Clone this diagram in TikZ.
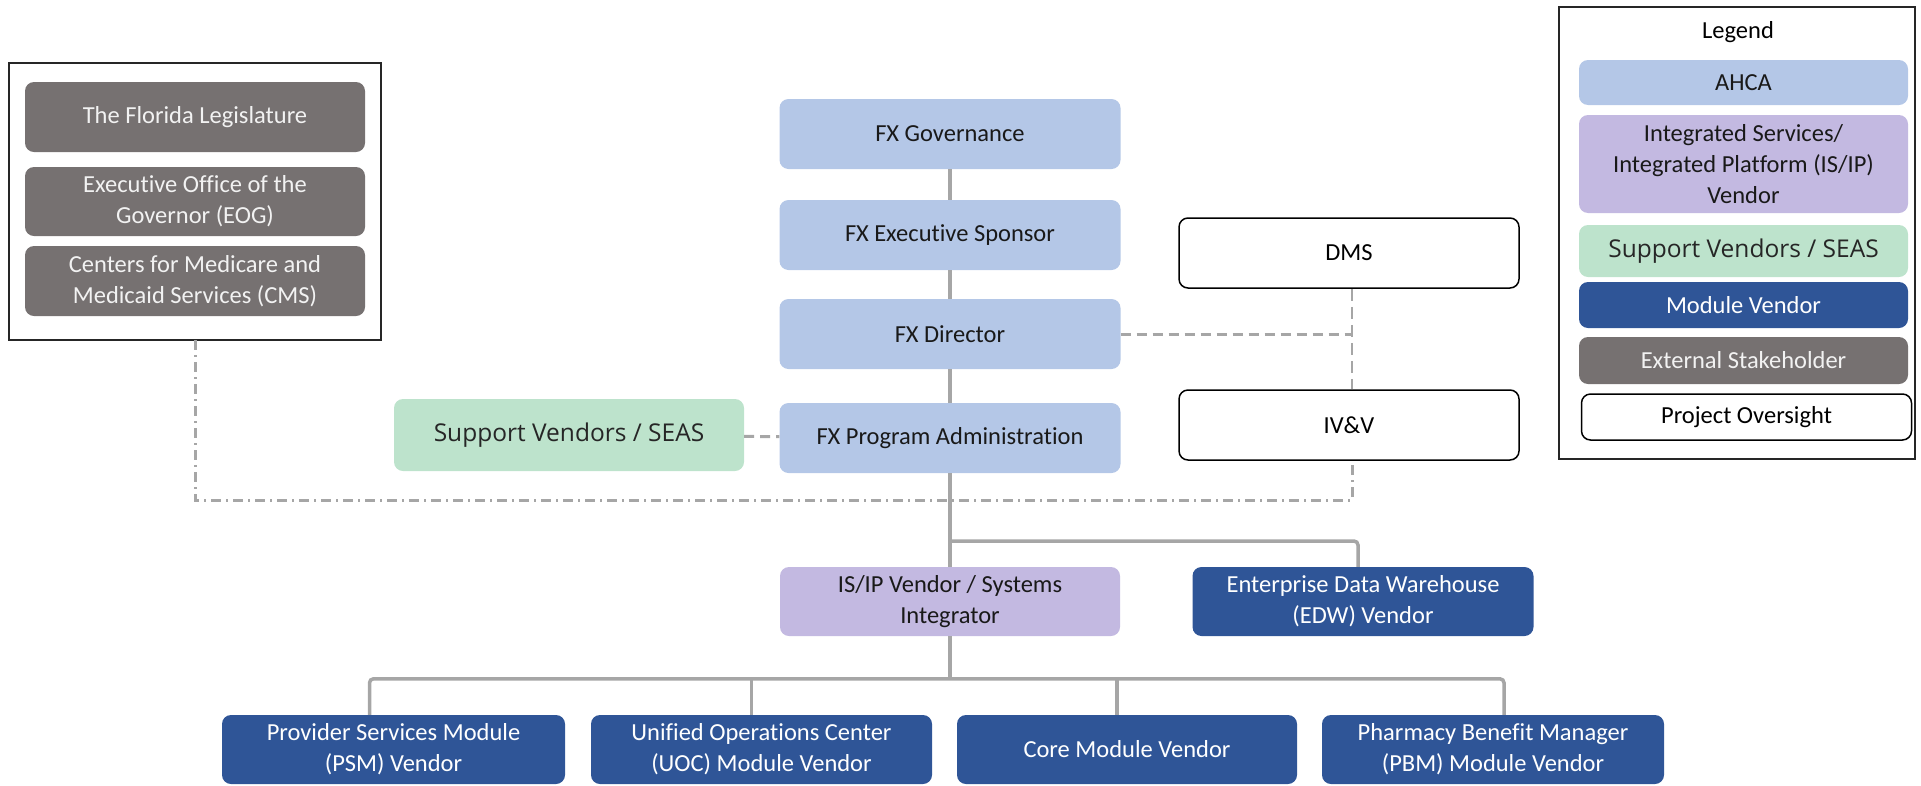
\documentclass[tikz,border=0pt]{standalone}
\usepackage{fontspec}
\setmainfont{Carlito}[Ligatures=NoCommon]
\newfontfamily\seasfont{Open Sans}
\usetikzlibrary{positioning}
\definecolor{ahcablue}{HTML}{B4C7E7}
\definecolor{isiplilac}{HTML}{C3B9E1}
\definecolor{seasgreen}{HTML}{BDE3CC}
\definecolor{modblue}{HTML}{2F5597}
\definecolor{extgrey}{HTML}{767171}
\definecolor{linkgrey}{HTML}{A6A6A6}
\tikzset{
    box/.style={rounded corners=9pt, inner sep=0pt, align=center,
        font=\fontsize{24.5}{31}\selectfont, minimum width=341pt, minimum height=70pt},
    ahca/.style={box, fill=ahcablue, text=black!90},
    isipbox/.style={box, fill=isiplilac, text=black!90},
    seas/.style={box, fill=seasgreen, text=black!85, font=\seasfont\fontsize{24.5}{31}\selectfont},
    module/.style={box, fill=modblue, text=white},
    external/.style={box, fill=extgrey, text=white!95!black},
    oversight/.style={box, draw=black, line width=1.5pt, fill=white, text=black},
    frame/.style={draw=black!85, line width=2pt},
    link/.style={draw=linkgrey, line width=3.5pt, rounded corners=4pt},
    dashlink/.style={draw=linkgrey, line width=3pt, dash pattern=on 10pt off 6pt},
    thinlink/.style={draw=linkgrey, line width=2pt, dash pattern=on 12pt off 6pt},
    dotlink/.style={draw=linkgrey, line width=3pt, dash pattern=on 10pt off 5pt on 2pt off 5pt}
}
\begin{document}
\begin{tikzpicture}[x=1pt, y=-1pt]
    \useasboundingbox (0,0) rectangle (1921,785);

    % external stakeholders
    \draw[frame] (9,63) rectangle (381,340);
    \coordinate (ext) at (195,340);
    \node[external, minimum width=340pt] (flor) at (195,117) {The Florida Legislature};
    \node[external, minimum width=340pt, minimum height=69pt] (eog) at (195,201.5) {Executive Office of the\\Governor\ (EOG)};
    \node[external, minimum width=340pt] (cms) at (195,281) {Centers for Medicare and\\Medicaid Services (CMS)};

    % AHCA chain
    \node[ahca] (gov) at (950,134) {FX Governance};
    \node[ahca] (spon) at (950,235) {FX Executive Sponsor};
    \node[ahca] (dir) at (950,334) {FX Director};
    \node[ahca] (admin) at (950,438) {FX Program\ Administration};
    \node[seas, minimum width=350pt, minimum height=72pt] (seas) at (569,435) {Support Vendors / SEAS};

    % oversight
    \node[oversight, minimum width=340pt] (dms) at (1349,253) {DMS};
    \node[oversight, minimum width=340pt] (ivv) at (1349,425) {IV\&V};

    % vendors
    \node[isipbox, minimum width=340pt, minimum height=69pt] (isip) at (950,601.5) {IS/IP Vendor\ / Systems\\Integrator};
    \node[module, minimum height=69pt] (edw) at (1363,601.5) {Enterprise Data Warehouse\\(EDW) Vendor};
    \node[module, minimum width=343pt, minimum height=69pt] (psm) at (393.5,749.5) {Provider Services Module\\(PSM) Vendor};
    \node[module, minimum height=69pt] (uoc) at (761.5,749.5) {Unified Operations Center\\(UOC) Module Vendor};
    \node[module, minimum width=340pt, minimum height=69pt] (core) at (1127,749.5) {Core Module Vendor};
    \node[module, minimum width=342pt, minimum height=69pt] (pbm) at (1493,749.5) {Pharmacy Benefit Manager\\(PBM) Module Vendor};

    % solid links
    \draw[link] (gov) -- (spon);
    \draw[link] (spon) -- (dir);
    \draw[link] (dir) -- (admin);
    \draw[link] (admin) -- (isip);
    \draw[link] (admin.south |- 0,541) -| ([xshift=-5pt]edw.north);
    \draw[link] ([xshift=-24pt]psm.north) -- ++(0,-36) -| ([xshift=11pt]pbm.north);
    \draw[link] (isip.south) -- ++(0,43);
    \draw[link] ([xshift=-10pt]uoc.north) -- ++(0,-36);
    \draw[link] ([xshift=-10pt]core.north) -- ++(0,-36);

    % oversight links
    \coordinate (ovr) at (1352,334);
    \draw[dashlink] (seas) -- (admin);
    \draw[dashlink] (dir) -- (ovr);
    \draw[thinlink] ([xshift=3pt]dms.south) -- ([xshift=3pt]ivv.north);
    \draw[dotlink] (ext) |- (1352,500) -- ([xshift=3pt]ivv.south);

    % legend
    \draw[frame] (1559,7) rectangle (1915,459);
    \node[font=\fontsize{24.5}{31}\selectfont] (leg) at (1738,32) {Legend};
    \node[ahca, minimum width=329pt, minimum height=45pt] (lahca) at (1743.5,82.5) {AHCA};
    \node[isipbox, minimum width=329pt, minimum height=98pt] (lisip) at (1743.5,164) {Integrated Services/\\Integrated Platform (IS/IP)\\Vendor};
    \node[seas, minimum width=329pt, minimum height=52pt] (lseas) at (1743.5,251) {Support Vendors / SEAS};
    \node[module, minimum width=329pt, minimum height=46pt] (lmod) at (1743.5,305) {Module Vendor};
    \node[external, minimum width=329pt, minimum height=47pt] (lext) at (1743.5,360.5) {External Stakeholder};
    \node[oversight, minimum width=330pt, minimum height=46pt] (lov) at (1746.5,417) {Project Oversight};
\end{tikzpicture}
\end{document}
